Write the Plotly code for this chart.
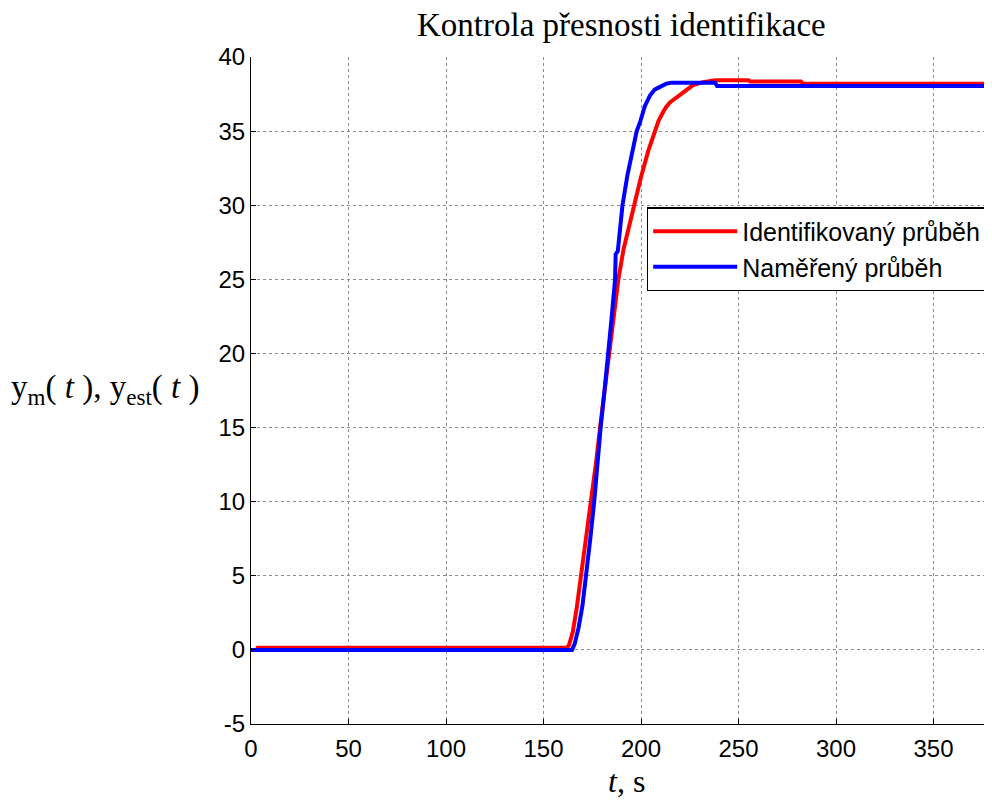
import plotly.graph_objects as go

# Identified response (red)
t_ident = [0, 3, 3.5, 162, 163, 165, 167, 169, 171, 173, 174.7, 177, 179, 181.3, 183.6,
           186, 188.4, 191, 194, 197, 200, 203.8, 207, 209, 211.4, 213, 215, 217.5, 220,
           223, 226.7, 231.8, 236, 238, 255, 256, 282, 283, 390]
y_ident = [0, 0, 0.15, 0.15, 0.3, 1.2, 2.8, 4.8, 6.6, 8.4, 10, 12.7, 15, 17.5, 20,
           22.6, 25, 27, 28.7, 30.2, 31.9, 33.7, 35.0, 35.7, 36.3, 36.65, 36.95, 37.2, 37.45,
           37.8, 38.1, 38.3, 38.4, 38.43, 38.43, 38.35, 38.35, 38.2, 38.2]

# Measured response (blue)
t_meas = [0, 164.6, 166, 168, 170, 172, 174, 176, 177.5, 179.3, 181.3, 183.3, 185, 186.7,
          187.0, 188.1, 190.5, 193, 196, 197.8, 199.5, 202, 204.6, 207, 210, 213, 215.7,
          238, 239, 390]
y_meas = [0, 0, 0.4, 1.5, 3, 5, 7.5, 10, 12.5, 15, 17.5, 20, 22.5, 25,
          26.7, 26.9, 30, 32, 33.7, 35, 35.6, 36.7, 37.4, 37.8, 38.0, 38.2, 38.27,
          38.27, 38.04, 38.04]

x_ticks = [0, 50, 100, 150, 200, 250, 300, 350]
y_ticks = [-5, 0, 5, 10, 15, 20, 25, 30, 35, 40]
y_ticktext = ["-5", "0", "5", "10", "15", "20", "25", "30", "35", "40"]

title_text = "Kontrola přesnosti identifikace"
ylabel_text = "y<sub>m</sub>( <i>t</i> ), y<sub>est</sub>( <i>t</i> )"
xlabel_text = "<i>t</i>, s"
names = ["Identifikovaný průběh", "Naměřený průběh"]

serif = "Liberation Serif, Times New Roman, serif"
sans = "Liberation Sans, Arial, sans-serif"

fig = go.Figure()
fig.add_trace(go.Scatter(x=t_ident, y=y_ident, mode="lines", name=names[0],
                         line=dict(color="#ff0000", width=4)))
fig.add_trace(go.Scatter(x=t_meas, y=y_meas, mode="lines", name=names[1],
                         line=dict(color="#0000ff", width=4)))

axis_common = dict(showgrid=True, gridcolor="#8a8a8a", griddash="dot", gridwidth=1,
                   zeroline=False, showline=True, linecolor="black", linewidth=1,
                   ticks="inside", ticklen=5, tickcolor="black",
                   tickfont=dict(family=sans, size=24, color="black"))

fig.update_layout(
    width=984, height=792,
    margin=dict(l=243, r=0, t=49, b=76),
    paper_bgcolor="white", plot_bgcolor="white",
    showlegend=True,
    legend=dict(x=0.534, y=0.775, xanchor="left", yanchor="top",
                bgcolor="white", bordercolor="black", borderwidth=1.5,
                font=dict(family=sans, size=25, color="black"),
                itemwidth=84, tracegroupgap=0),
    xaxis=dict(range=[0, 380], tickvals=x_ticks, ticklabelstandoff=3, **axis_common),
    yaxis=dict(range=[-5, 40], tickvals=y_ticks, ticktext=y_ticktext, **axis_common),
    annotations=[
        dict(text=title_text, x=0.5, y=1.048, xref="paper", yref="paper",
             showarrow=False, xanchor="center", yanchor="middle",
             font=dict(family=serif, size=33, color="black")),
        dict(text=ylabel_text, x=-0.197, y=0.501, xref="paper", yref="paper",
             showarrow=False, xanchor="center", yanchor="middle",
             font=dict(family=serif, size=33, color="black")),
        dict(text=xlabel_text, x=0.507, y=-0.086, xref="paper", yref="paper",
             showarrow=False, xanchor="center", yanchor="middle",
             font=dict(family=serif, size=32, color="black")),
    ],
)

fig.write_html("out.html")
